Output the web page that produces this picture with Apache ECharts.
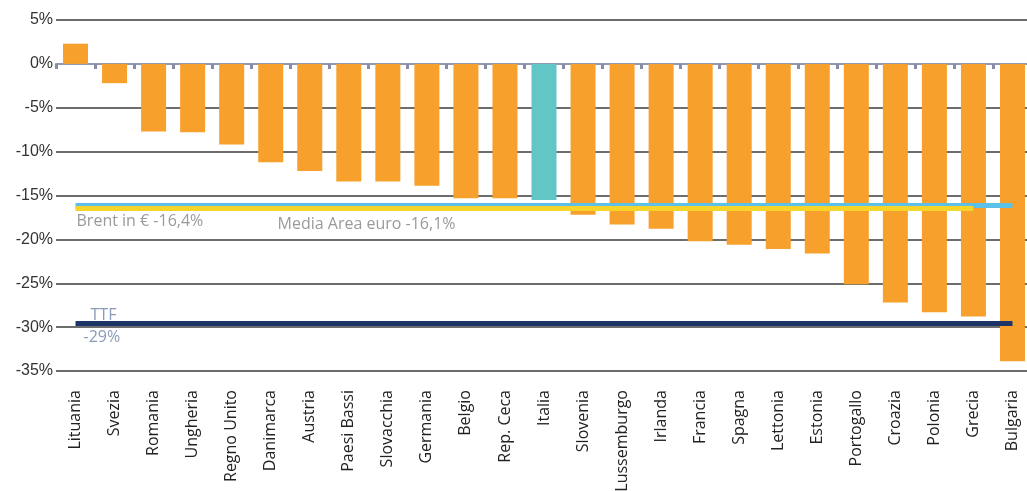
<!DOCTYPE html>
<html>
<head>
<meta charset="utf-8">
<script src="https://cdn.jsdelivr.net/npm/echarts@6/dist/echarts.min.js"></script>
<style>
  html, body { margin: 0; padding: 0; background: #fff; }
  #chart { width: 1027px; height: 491px; }
</style>
</head>
<body>
<div id="chart"></div>
<script>
const countries = ['Lituania', 'Svezia', 'Romania', 'Ungheria', 'Regno Unito', 'Danimarca', 'Austria',
  'Paesi Bassi', 'Slovacchia', 'Germania', 'Belgio', 'Rep. Ceca', 'Italia', 'Slovenia', 'Lussemburgo',
  'Irlanda', 'Francia', 'Spagna', 'Lettonia', 'Estonia', 'Portogallo', 'Croazia', 'Polonia', 'Grecia', 'Bulgaria']
const changes = [2.3, -2.2, -7.7, -7.8, -9.2, -11.2, -12.2, -13.4, -13.4, -13.9, -15.3, -15.3, -15.5, -17.2,
  -18.3, -18.8, -20.2, -20.6, -21.1, -21.6, -25.1, -27.2, -28.3, -28.8, -33.9]
const yTicks = [5, 0, -5, -10, -15, -20, -25, -30, -35]

// reference lines: euro area average, Brent in euro, TTF gas
const mediaArea = -16.1
const brent = -16.4
const ttf = -29.6

const orange = '#f7a02b'
const teal = '#63c6c6'
const highlight = 'Italia'
const noteFont = 'Open Sans, sans-serif'

const chart = echarts.init(document.getElementById('chart'))

const option = {
  animation: false,
  grid: {
    left: 56,
    top: 20,
    width: 976,
    height: 351,
    outerBoundsMode: 'none'
  },
  xAxis: [
    {
      type: 'category',
      data: countries,
      position: 'bottom',
      offset: 13,
      axisLine: { show: false, onZero: false },
      axisTick: { show: false },
      axisLabel: {
        interval: 0,
        rotate: 90,
        margin: 6,
        color: '#222',
        fontSize: 16,
        fontFamily: noteFont
      }
    },
    {
      type: 'category',
      data: countries,
      position: 'top',
      axisLine: {
        show: true,
        onZero: true,
        lineStyle: { color: '#8e9bb2', width: 2 }
      },
      axisTick: {
        show: true,
        inside: true,
        interval: 0,
        length: 5,
        lineStyle: { color: '#8a8ca6', width: 3 }
      },
      axisLabel: { show: false }
    }
  ],
  yAxis: {
    type: 'value',
    min: yTicks[yTicks.length - 1],
    max: yTicks[0],
    interval: 5,
    axisLine: { show: false },
    axisTick: { show: false },
    splitLine: {
      lineStyle: { color: '#3d3d3d', width: 1.5 }
    },
    axisLabel: {
      formatter: '{value}%',
      margin: 3,
      color: '#333',
      fontSize: 16,
      fontFamily: 'Liberation Sans, sans-serif'
    }
  },
  series: [
    {
      type: 'bar',
      xAxisIndex: 0,
      data: changes,
      barWidth: 25,
      itemStyle: {
        color: (p) => (p.name === highlight ? teal : orange)
      },
      markLine: {
        silent: true,
        symbol: 'none',
        label: {
          fontSize: 16,
          fontFamily: noteFont,
          color: '#9a9a9a'
        },
        data: [
          [
            {
              coord: [countries[0], mediaArea],
              lineStyle: { color: '#5cc0e8', width: 5, type: 'solid' },
              label: {
                position: 'insideStartBottom',
                formatter: 'Media Area euro ' + String(mediaArea).replace('.', ',') + '%',
                padding: [9, 0, 0, 200],
                distance: 2
              }
            },
            { coord: [countries[countries.length - 1], mediaArea] }
          ],
          [
            {
              coord: [countries[0], brent],
              lineStyle: { color: '#f6d42a', width: 5, type: 'solid' },
              label: {
                position: 'insideStartBottom',
                formatter: 'Brent in € ' + String(brent).replace('.', ',') + '%',
                padding: [5, 0, 0, 0],
                distance: 1
              }
            },
            { coord: [countries[countries.length - 2], brent] }
          ],
          [
            {
              coord: [countries[0], ttf],
              lineStyle: { color: '#1d3566', width: 5, type: 'solid' },
              label: {
                position: 'insideStartTop',
                formatter: 'TTF',
                color: '#8a9cba',
                padding: [0, 0, 0, 15],
                distance: 0
              }
            },
            { coord: [countries[countries.length - 1], ttf] }
          ],
          [
            {
              coord: [countries[0], ttf],
              lineStyle: { color: 'rgba(0,0,0,0)', width: 0 },
              label: {
                position: 'insideStartBottom',
                formatter: '-29%',
                color: '#8a9cba',
                padding: [4, 0, 0, 6],
                distance: 2
              }
            },
            { coord: [countries[countries.length - 1], ttf] }
          ]
        ]
      }
    }
  ]
}

chart.setOption(option)
</script>
</body>
</html>
